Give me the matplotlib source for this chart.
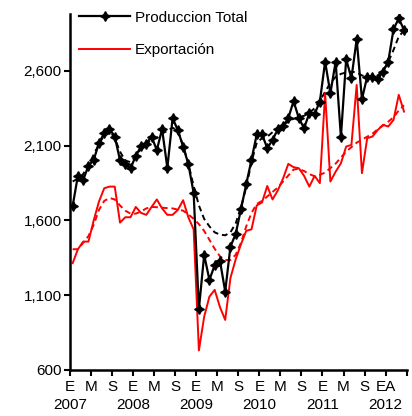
import numpy as np
import matplotlib
matplotlib.use('Agg')
import matplotlib.pyplot as plt
from matplotlib.ticker import FuncFormatter

plt.rcParams['font.family'] = ['Liberation Sans', 'DejaVu Sans']

## monthly data, Jan 2007 - Apr 2012
years = ['2007', '2008', '2009', '2010', '2011', '2012']
month_letters = ['E', 'M', 'S']

produccion = [1697, 1900, 1871, 1965, 2005, 2117, 2184, 2213, 2161, 2003, 1978, 1949,
              2030, 2097, 2114, 2161, 2070, 2211, 1951, 2284, 2203, 2094, 1976, 1784,
              1006, 1369, 1202, 1300, 1331, 1124, 1425, 1510, 1675, 1842, 2005, 2176,
              2176, 2083, 2138, 2210, 2230, 2284, 2398, 2284, 2217, 2317, 2312, 2395,
              2662, 2450, 2662, 2158, 2678, 2551, 2812, 2411, 2562, 2557, 2544, 2595,
              2662, 2878, 2952, 2874]
produccion_tend = [1860, 1880, 1910, 1970, 2040, 2110, 2170, 2200, 2150, 2060, 2000, 1990,
                   2030, 2080, 2110, 2140, 2150, 2180, 2200, 2220, 2200, 2100, 1980, 1830,
                   1700, 1610, 1560, 1520, 1505, 1500, 1520, 1580, 1690, 1820, 1990, 2120,
                   2150, 2160, 2190, 2220, 2240, 2260, 2280, 2290, 2300, 2320, 2350, 2400,
                   2460, 2520, 2560, 2580, 2590, 2595, 2590, 2570, 2560, 2555, 2570, 2600,
                   2660, 2740, 2830, 2870]
exportacion = [1314, 1407, 1458, 1458, 1600, 1726, 1815, 1826, 1826, 1585, 1621, 1621,
               1690, 1650, 1637, 1690, 1740, 1680, 1637, 1637, 1670, 1735, 1620, 1540,
               730, 955, 1090, 1135, 1020, 934, 1215, 1340, 1440, 1530, 1540, 1700,
               1720, 1830, 1740, 1800, 1880, 1978, 1956, 1949, 1898, 1826, 1898, 1849,
               2451, 1860, 1926, 1982, 2094, 2105, 2506, 1916, 2150, 2161, 2205, 2239,
               2228, 2272, 2440, 2328]
exportacion_tend = [1407, 1407, 1450, 1495, 1570, 1670, 1730, 1750, 1740, 1700, 1665, 1645,
                    1645, 1660, 1680, 1690, 1688, 1685, 1682, 1680, 1672, 1665, 1640, 1610,
                    1575, 1530, 1470, 1410, 1360, 1335, 1335, 1370, 1450, 1560, 1650, 1710,
                    1730, 1760, 1790, 1820, 1860, 1900, 1940, 1945, 1930, 1910, 1895, 1905,
                    1920, 1950, 1980, 2020, 2060, 2090, 2120, 2140, 2160, 2180, 2210, 2235,
                    2260, 2290, 2335, 2370]

n = len(produccion)
x = np.arange(n) + 0.5

fig = plt.figure(figsize=(4.12, 4.16), dpi=100)
ax = fig.add_axes([0.170, 0.111, 0.817, 0.855])

ax.plot(x, produccion_tend, color='black', lw=1.4, ls=(0, (3, 2)))
ax.plot(x, exportacion_tend, color='red', lw=1.4, ls=(0, (3, 2)))
ax.plot(x, exportacion, color='red', lw=1.4, label='Exportación')
ax.plot(x, produccion, color='black', lw=1.6, marker=(4, 1, 0), ms=7,
        label='Produccion Total')

ax.set_xlim(0, 64)
ax.set_ylim(600, 2980)
ax.set_yticks([600, 1100, 1600, 2100, 2600])
ax.yaxis.set_major_formatter(FuncFormatter(lambda v, p: '{:,.0f}'.format(v)))

# x ticks every 4 months (E, M, S), year under each January
ticks = np.arange(0, 65, 4)
labels = []
for t in ticks[:-1]:
    lab = month_letters[(t % 12) // 4]
    if t == 60:
        lab = 'EA'  # enero / abril 2012
    labels.append(lab)
labels.append('')
ax.set_xticks(ticks)
ax.set_xticklabels(labels)
for k, yr in enumerate(years):
    ax.annotate(yr, xy=(k * 12, 0), xycoords=('data', 'axes fraction'),
                xytext=(0, -20), textcoords='offset points',
                ha='center', va='top', fontsize=11)

ax.tick_params(axis='both', which='major', labelsize=11, width=1.5, length=4,
               direction='out', color='black')
ax.tick_params(axis='x', which='major', pad=3)
ax.tick_params(axis='y', pad=2)

for s in ['top', 'right']:
    ax.spines[s].set_visible(False)
for s in ['left', 'bottom']:
    ax.spines[s].set_linewidth(1.8)

h, l = ax.get_legend_handles_labels()
ax.legend(h[::-1], l[::-1], loc='upper left', bbox_to_anchor=(0.028, 1.01),
          frameon=False, fontsize=11, handlelength=3.3, labelspacing=1.2,
          borderpad=0, handletextpad=0.35, borderaxespad=0)

fig.savefig('out.png', dpi=100)
